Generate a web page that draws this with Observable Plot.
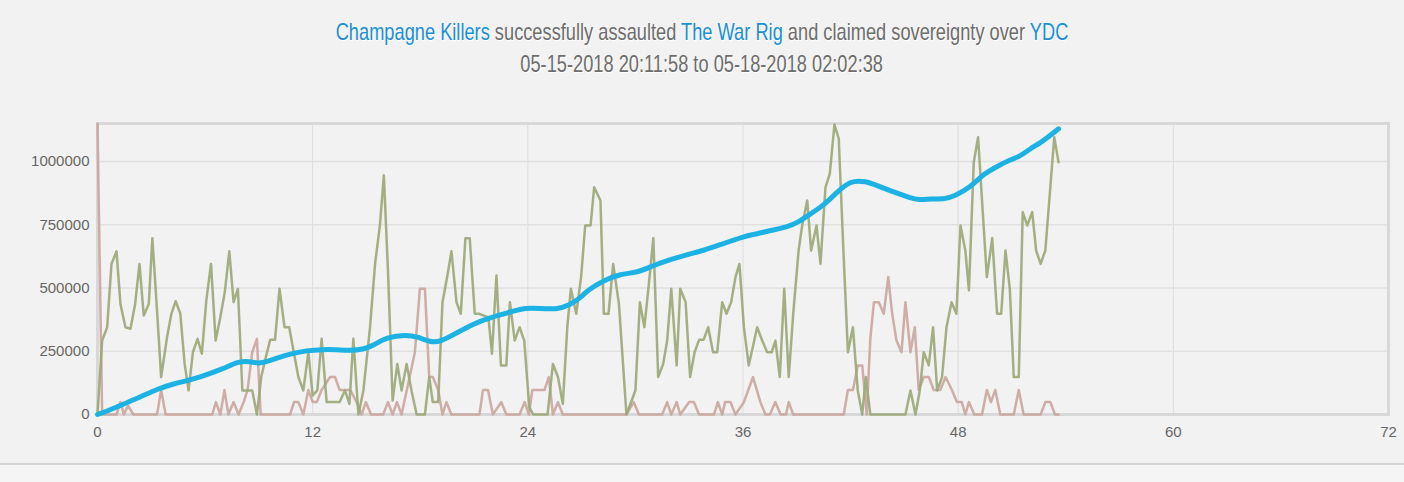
<!DOCTYPE html>
<html><head><meta charset="utf-8">
<script src="https://cdn.jsdelivr.net/npm/d3@7"></script>
<script src="https://cdn.jsdelivr.net/npm/@observablehq/plot@0.6"></script>
<style>
body{margin:0;background:#f2f2f2;width:1404px;height:482px;overflow:hidden;position:relative;font-family:"Liberation Sans",Arial,sans-serif}
#t{position:absolute;top:16px;left:0;width:1404px;text-align:center;font-family:"Liberation Sans",sans-serif;font-size:24px;color:#6d6d6d;line-height:32px;text-shadow:1px 1px 0 #fff}
#t div{display:inline-block;transform:scaleX(0.76);transform-origin:center;white-space:nowrap}
#t b{font-weight:normal;color:#1a8fd6}
#c{position:absolute;top:100px;left:0}
#rule{position:absolute;top:463px;left:0;width:1404px;height:2px;background:#d4d4d4}
#foot{position:absolute;top:465px;left:0;width:1404px;height:17px;background:#f5f5f5}
</style></head><body>
<div id="t"><div><b>Champagne Killers</b> successfully assaulted <b>The War Rig</b> and claimed sovereignty over <b>YDC</b></div><br><div>05-15-2018 20:11:58 to 05-18-2018 02:02:38</div></div>
<div id="c"></div><div id="rule"></div><div id="foot"></div>
<script>
const xTicks=[0,12,24,36,48,60,72];
const yTicks=[0,250000,500000,750000,1000000];
const greenX=[0,0.26,0.54,0.78,1.06,1.28,1.56,1.84,2.1,2.34,2.58,2.86,3.06,3.32,3.55,3.88,4.12,4.36,4.62,4.86,5.08,5.32,5.58,5.82,6.07,6.33,6.59,6.85,7.1,7.35,7.59,7.83,8.08,8.63,8.89,9.13,9.39,9.63,9.9,10.15,10.43,10.69,10.93,11.2,11.48,11.76,12.0,12.26,12.5,12.78,13.5,13.8,14.05,14.27,14.55,14.83,15.2,15.48,15.75,15.97,16.2,16.46,16.72,16.96,17.24,17.51,17.8,18.26,18.5,18.7,19.0,19.24,19.5,19.74,20.02,20.26,20.52,20.76,21.04,21.28,21.8,22.0,22.25,22.5,22.8,23.0,23.27,23.54,23.8,24.08,24.3,25.1,25.4,25.68,25.95,26.2,26.4,26.7,26.97,27.2,27.5,27.7,28.05,28.24,28.5,28.76,29.08,29.5,30.0,30.25,30.5,30.75,31.0,31.27,31.55,31.77,32.0,32.3,32.5,32.8,33.05,33.3,33.55,33.8,34.06,34.33,34.56,34.84,35.08,35.34,35.58,35.8,36.05,36.32,36.79,37.07,37.35,37.6,37.81,38.05,38.3,38.55,38.8,39.1,39.3,39.58,39.8,40.1,40.32,40.6,40.84,41.1,41.34,41.6,41.85,42.13,42.4,42.65,42.85,43.1,45.06,45.34,45.62,45.86,46.08,46.36,46.6,46.83,47.1,47.35,47.63,47.9,48.13,48.4,48.6,48.87,49.11,49.33,49.6,49.9,50.17,50.4,50.64,50.88,51.1,51.38,51.6,51.85,52.13,52.35,52.6,52.86,53.14,53.36,53.6];
const greenY=[0,292000,345000,595000,645000,437000,345000,339000,437000,595000,391000,437000,697000,410000,148000,306000,398000,448000,398000,200000,95000,246000,299000,240000,451000,595000,292000,384000,484000,645000,444000,497000,95000,95000,0,148000,227000,295000,295000,497000,345000,345000,253000,148000,95000,246000,75000,95000,299000,49000,49000,95000,42000,299000,0,95000,345000,595000,747000,945000,569000,55000,200000,95000,200000,95000,0,0,148000,49000,49000,444000,543000,645000,444000,398000,697000,697000,398000,398000,384000,240000,549000,194000,194000,444000,292000,345000,292000,29000,0,0,200000,148000,42000,345000,497000,398000,543000,747000,747000,898000,846000,398000,398000,595000,437000,0,95000,444000,345000,516000,697000,148000,200000,292000,497000,194000,497000,444000,148000,246000,295000,295000,345000,246000,246000,444000,398000,444000,543000,595000,345000,194000,345000,292000,246000,246000,292000,148000,497000,148000,398000,648000,747000,846000,648000,747000,595000,898000,951000,1146000,1090000,648000,246000,345000,95000,0,148000,0,0,95000,0,95000,246000,194000,345000,95000,148000,345000,444000,398000,747000,648000,490000,997000,1096000,846000,543000,697000,398000,398000,648000,497000,148000,148000,800000,747000,800000,648000,595000,648000,898000,1096000,997000];
const redX=[0,0.26,1.06,1.28,1.47,1.7,2.0,3.32,3.55,3.8,6.4,6.6,6.85,7.08,7.3,7.59,7.87,8.15,8.37,8.63,8.89,9.1,10.74,10.96,11.2,11.48,11.76,12.0,12.23,12.5,12.97,13.25,13.5,14.1,14.45,14.73,14.97,15.25,15.93,16.2,16.46,16.7,16.96,17.7,17.98,18.26,18.5,18.7,19.0,19.24,19.46,19.74,21.3,21.5,21.78,22.05,22.52,22.8,23.54,23.82,24.06,24.25,24.93,25.17,25.4,25.68,25.95,29.5,29.9,30.2,31.49,31.77,32.0,32.3,32.5,33.0,33.26,33.55,34.38,34.6,34.84,35.0,35.3,35.58,36.05,36.56,36.97,37.25,37.5,37.8,38.1,38.4,38.55,38.8,41.62,41.85,42.13,42.4,42.65,42.9,43.1,43.3,43.57,43.85,44.1,44.32,44.56,44.84,45.06,45.34,45.58,45.8,46.08,46.36,46.64,47.0,47.3,47.65,47.93,48.2,48.4,48.6,48.9,49.33,49.6,49.83,50.07,50.35,51.1,51.38,51.65,52.6,52.86,53.14,53.4,53.6];
const redY=[1149000,0,0,49000,0,35000,0,0,97000,0,0,49000,0,97000,0,49000,0,49000,97000,246000,299000,0,0,49000,49000,0,97000,49000,49000,97000,148000,148000,97000,97000,49000,0,49000,0,0,49000,0,49000,0,246000,497000,497000,148000,148000,97000,0,49000,0,0,97000,97000,0,49000,0,0,49000,0,97000,97000,148000,0,49000,0,0,49000,0,0,49000,0,49000,0,49000,49000,0,0,49000,0,49000,49000,0,49000,148000,49000,0,0,49000,0,0,49000,0,0,97000,97000,194000,194000,0,299000,444000,444000,398000,543000,398000,292000,246000,444000,246000,345000,97000,148000,148000,97000,97000,148000,97000,49000,49000,0,49000,0,0,97000,49000,97000,0,0,97000,0,0,49000,49000,0,0];
const blueX=[0,0.54,1.47,2.4,3.32,4.25,4.9,5.73,7.03,7.83,8.48,8.96,9.6,10.74,11.67,12.6,13.34,14.08,14.8,15.4,16.1,17.24,17.88,18.53,19.1,20.02,20.95,21.87,22.98,23.9,24.66,25.6,26.3,27.0,27.3,28.24,29.17,30.1,31.0,31.9,32.87,33.8,34.72,36.05,36.8,37.5,38.45,39.1,39.75,40.5,41.25,42.0,42.83,43.48,44.4,45.34,45.8,46.45,47.3,47.76,48.7,49.4,50.35,50.9,51.46,52.0,52.66,53.6];
const blueY=[0,13000,42000,69000,101000,121000,132000,148000,181000,209000,211000,200000,213000,240000,253000,257000,256000,253000,257000,273000,306000,316000,306000,286000,286000,322000,358000,382000,404000,422000,419000,415000,431000,464000,490000,530000,556000,560000,589000,611000,632000,648000,671000,704000,714000,727000,740000,760000,793000,826000,879000,925000,922000,905000,879000,856000,848000,852000,852000,862000,898000,951000,987000,1007000,1020000,1050000,1076000,1129000];
const green=greenX.map((x,i)=>({x,y:greenY[i]}));
const red=redX.map((x,i)=>({x,y:redY[i]}));
const blue=blueX.map((x,i)=>({x,y:blueY[i]}));
const chart=Plot.plot({
  width:1404,height:345,marginLeft:97,marginRight:16,marginTop:23,marginBottom:31,
  style:{background:"transparent",fontSize:"15px",color:"#666",fontFamily:"Liberation Sans, Arial, sans-serif"},
  x:{domain:[0,72],ticks:xTicks,tickSize:0,tickPadding:12,label:null},
  y:{domain:[0,1150000],ticks:yTicks,tickSize:0,tickPadding:8,label:null,tickFormat:d=>String(d)},
  marks:[
    Plot.gridX(xTicks,{stroke:"#ddd",strokeOpacity:1}),
    Plot.gridY(yTicks,{stroke:"#e0e0e0",strokeOpacity:1,strokeWidth:1.5}),
    Plot.frame({stroke:"#d8d8d8",strokeWidth:3}),
    Plot.line(red,{x:"x",y:"y",stroke:"#c9a59c",strokeWidth:2.5,strokeOpacity:0.9}),
    Plot.line(green,{x:"x",y:"y",stroke:"#9aa777",strokeWidth:2.5,strokeOpacity:0.9}),
    Plot.line(blue,{x:"x",y:"y",stroke:"#1cb2e4",strokeWidth:5,curve:"basis"})
  ]
});
document.getElementById("c").appendChild(chart);
</script></body></html>
